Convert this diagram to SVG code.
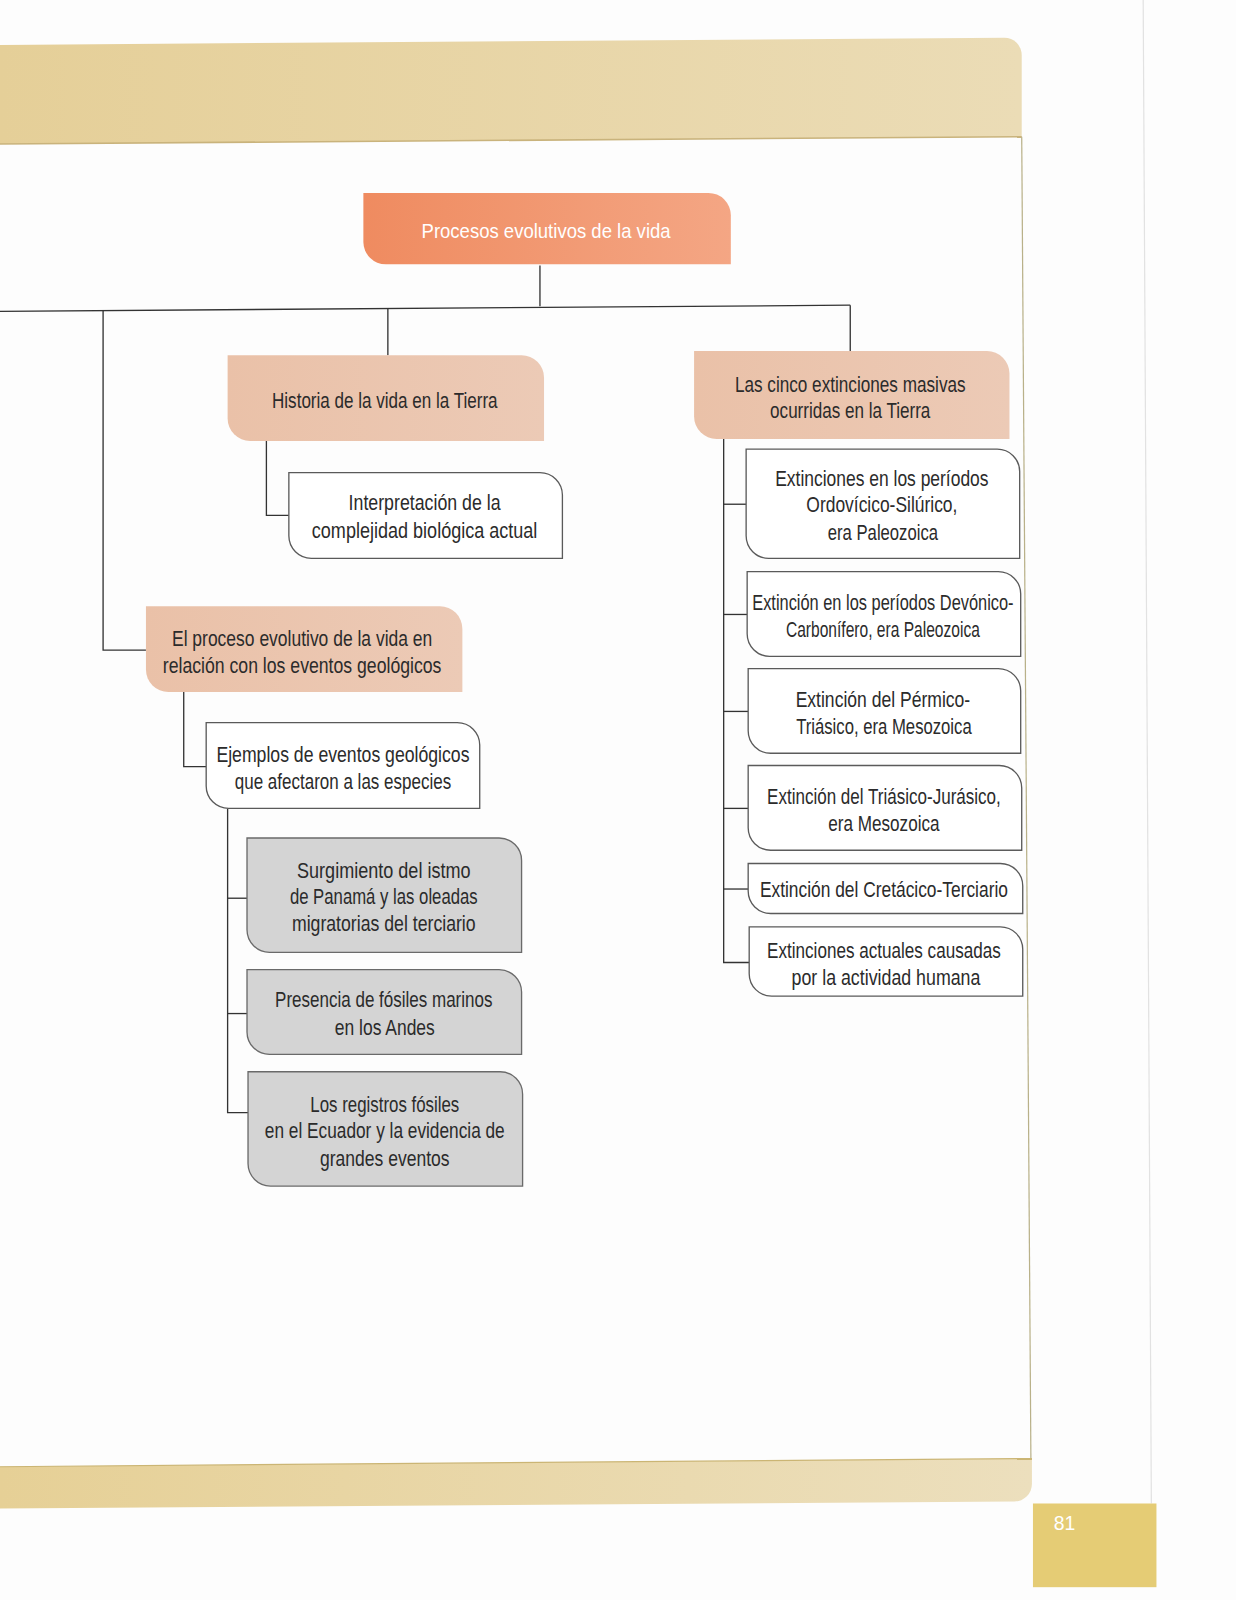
<svg xmlns="http://www.w3.org/2000/svg" width="1236" height="1600" viewBox="0 0 1236 1600">
<defs>
<linearGradient id="gHead" x1="0" y1="0" x2="1" y2="0">
<stop offset="0" stop-color="#e5cf98"/>
<stop offset="1" stop-color="#ebdcb6"/>
</linearGradient>
<linearGradient id="gFoot" x1="0" y1="0" x2="1" y2="0">
<stop offset="0" stop-color="#e6d096"/>
<stop offset="1" stop-color="#ecdfbd"/>
</linearGradient>
<linearGradient id="gRoot" x1="0" y1="0" x2="1" y2="0">
<stop offset="0" stop-color="#ef8b60"/>
<stop offset="1" stop-color="#f4a684"/>
</linearGradient>
<linearGradient id="gPeach" x1="0" y1="0" x2="1" y2="0">
<stop offset="0" stop-color="#eac1a8"/>
<stop offset="1" stop-color="#eccab6"/>
</linearGradient>
</defs>
<style>
.t{font-family:"Liberation Sans",Arial,sans-serif;font-size:21px;fill:#2b2b2b;text-anchor:middle}
.tw{font-family:"Liberation Sans",Arial,sans-serif;font-size:19px;fill:#ffffff;text-anchor:middle}
.peach{fill:url(#gPeach);stroke:none}
.white{fill:#ffffff;stroke:#5a5a5a;stroke-width:1.3}
.gray{fill:#d4d4d4;stroke:#6a6a6a;stroke-width:1.3}
.conn{fill:none;stroke:#333333;stroke-width:1.3}
</style>
<rect x="0" y="0" width="1236" height="1600" fill="#fdfdfd"/>
<g transform="scale(1.0207)">
<g id="page">
<path d="M0 44 L984 37 A17 17 0 0 1 1001 54 V134 L0 141 Z" fill="url(#gHead)"/>
<line x1="0" y1="141" x2="1001" y2="134" stroke="#c9b37c" stroke-width="1.5"/>
<line x1="1001" y1="134" x2="1010" y2="1430" stroke="#b9b189" stroke-width="1.2"/>
<path d="M0 1437 L1011 1429 V1454 A17 17 0 0 1 994 1471 L0 1478 Z" fill="url(#gFoot)"/>
<line x1="0" y1="1437" x2="1011" y2="1429" stroke="#cbb574" stroke-width="1.2"/>
<line x1="1120" y1="0" x2="1128" y2="1473" stroke="#e2e2e2" stroke-width="1.2"/>
<rect x="1012" y="1473" width="121" height="82" fill="#e5cc75"/>
<text x="1043" y="1499" style="font-family:'Liberation Sans',Arial,sans-serif;font-size:19px;fill:#ffffff;text-anchor:middle">81</text>
</g>
<g id="connectors">
<path class="conn" d="M529 260 V300"/>
<path class="conn" d="M0 305 L833 299"/>
<path class="conn" d="M101 304 V637 H143"/>
<path class="conn" d="M380 302 V348"/>
<path class="conn" d="M833 299 V344"/>
<path class="conn" d="M261 432 V505 H283"/>
<path class="conn" d="M180 678 V751 H202"/>
<path class="conn" d="M223 792 V1090 H243"/>
<path class="conn" d="M223 880 H242"/>
<path class="conn" d="M223 993 H242"/>
<path class="conn" d="M709 430 V943 H734"/>
<path class="conn" d="M709 494 H731"/>
<path class="conn" d="M709 602 H732"/>
<path class="conn" d="M709 697 H733"/>
<path class="conn" d="M709 792 H733"/>
<path class="conn" d="M709 871 H733"/>
</g>
<g id="root">
<path d="M356 189 H694 A22 22 0 0 1 716 211 V259 H378 A22 22 0 0 1 356 237 Z" fill="url(#gRoot)"/>
<text class="tw" x="535" y="233" textLength="244" lengthAdjust="spacingAndGlyphs">Procesos evolutivos de la vida</text>
</g>
<g id="historia">
<path class="peach" d="M223 348 H511 A22 22 0 0 1 533 370 V432 H245 A22 22 0 0 1 223 410 Z"/>
<text class="t" x="377" y="400" textLength="221" lengthAdjust="spacingAndGlyphs">Historia de la vida en la Tierra</text>
</g>
<g id="interpretacion">
<path class="white" d="M283 463 H529 A22 22 0 0 1 551 485 V547 H305 A22 22 0 0 1 283 525 Z"/>
<text class="t" x="416" y="500" textLength="149" lengthAdjust="spacingAndGlyphs">Interpretación de la</text>
<text class="t" x="416" y="527" textLength="221" lengthAdjust="spacingAndGlyphs">complejidad biológica actual</text>
</g>
<g id="proceso">
<path class="peach" d="M143 594 H431 A22 22 0 0 1 453 616 V678 H165 A22 22 0 0 1 143 656 Z"/>
<text class="t" x="296" y="633" textLength="255" lengthAdjust="spacingAndGlyphs">El proceso evolutivo de la vida en</text>
<text class="t" x="296" y="659" textLength="273" lengthAdjust="spacingAndGlyphs">relación con los eventos geológicos</text>
</g>
<g id="ejemplos">
<path class="white" d="M202 708 H448 A22 22 0 0 1 470 730 V792 H224 A22 22 0 0 1 202 770 Z"/>
<text class="t" x="336" y="747" textLength="248" lengthAdjust="spacingAndGlyphs">Ejemplos de eventos geológicos</text>
<text class="t" x="336" y="773" textLength="212" lengthAdjust="spacingAndGlyphs">que afectaron a las especies</text>
</g>
<g id="surgimiento">
<path class="gray" d="M242 821 H489 A22 22 0 0 1 511 843 V933 H264 A22 22 0 0 1 242 911 Z"/>
<text class="t" x="376" y="860" textLength="170" lengthAdjust="spacingAndGlyphs">Surgimiento del istmo</text>
<text class="t" x="376" y="886" textLength="184" lengthAdjust="spacingAndGlyphs">de Panamá y las oleadas</text>
<text class="t" x="376" y="912" textLength="180" lengthAdjust="spacingAndGlyphs">migratorias del terciario</text>
</g>
<g id="presencia">
<path class="gray" d="M242 950 H489 A22 22 0 0 1 511 972 V1033 H264 A22 22 0 0 1 242 1011 Z"/>
<text class="t" x="376" y="987" textLength="213" lengthAdjust="spacingAndGlyphs">Presencia de fósiles marinos</text>
<text class="t" x="377" y="1014" textLength="98" lengthAdjust="spacingAndGlyphs">en los Andes</text>
</g>
<g id="registros">
<path class="gray" d="M243 1050 H490 A22 22 0 0 1 512 1072 V1162 H265 A22 22 0 0 1 243 1140 Z"/>
<text class="t" x="377" y="1089" textLength="146" lengthAdjust="spacingAndGlyphs">Los registros fósiles</text>
<text class="t" x="377" y="1115" textLength="235" lengthAdjust="spacingAndGlyphs">en el Ecuador y la evidencia de</text>
<text class="t" x="377" y="1142" textLength="127" lengthAdjust="spacingAndGlyphs">grandes eventos</text>
</g>
<g id="cinco">
<path class="peach" d="M680 344 H967 A22 22 0 0 1 989 366 V430 H702 A22 22 0 0 1 680 408 Z"/>
<text class="t" x="833" y="384" textLength="226" lengthAdjust="spacingAndGlyphs">Las cinco extinciones masivas</text>
<text class="t" x="833" y="410" textLength="157" lengthAdjust="spacingAndGlyphs">ocurridas en la Tierra</text>
</g>
<g id="ext1">
<path class="white" d="M731 440 H977 A22 22 0 0 1 999 462 V547 H753 A22 22 0 0 1 731 525 Z"/>
<text class="t" x="864" y="476" textLength="209" lengthAdjust="spacingAndGlyphs">Extinciones en los períodos</text>
<text class="t" x="864" y="502" textLength="148" lengthAdjust="spacingAndGlyphs">Ordovícico-Silúrico,</text>
<text class="t" x="865" y="529" textLength="108" lengthAdjust="spacingAndGlyphs">era Paleozoica</text>
</g>
<g id="ext2">
<path class="white" d="M732 560 H978 A22 22 0 0 1 1000 582 V643 H754 A22 22 0 0 1 732 621 Z"/>
<text class="t" x="865" y="598" textLength="256" lengthAdjust="spacingAndGlyphs">Extinción en los períodos Devónico-</text>
<text class="t" x="865" y="624" textLength="190" lengthAdjust="spacingAndGlyphs">Carbonífero, era Paleozoica</text>
</g>
<g id="ext3">
<path class="white" d="M733 655 H978 A22 22 0 0 1 1000 677 V738 H755 A22 22 0 0 1 733 716 Z"/>
<text class="t" x="865" y="693" textLength="171" lengthAdjust="spacingAndGlyphs">Extinción del Pérmico-</text>
<text class="t" x="866" y="719" textLength="172" lengthAdjust="spacingAndGlyphs">Triásico, era Mesozoica</text>
</g>
<g id="ext4">
<path class="white" d="M733 750 H979 A22 22 0 0 1 1001 772 V833 H755 A22 22 0 0 1 733 811 Z"/>
<text class="t" x="866" y="788" textLength="229" lengthAdjust="spacingAndGlyphs">Extinción del Triásico-Jurásico,</text>
<text class="t" x="866" y="814" textLength="109" lengthAdjust="spacingAndGlyphs">era Mesozoica</text>
</g>
<g id="ext5">
<path class="white" d="M733 846 H980 A22 22 0 0 1 1002 868 V895 H755 A22 22 0 0 1 733 873 Z"/>
<text class="t" x="866" y="879" textLength="243" lengthAdjust="spacingAndGlyphs">Extinción del Cretácico-Terciario</text>
</g>
<g id="ext6">
<path class="white" d="M734 908 H980 A22 22 0 0 1 1002 930 V976 H756 A22 22 0 0 1 734 954 Z"/>
<text class="t" x="866" y="939" textLength="229" lengthAdjust="spacingAndGlyphs">Extinciones actuales causadas</text>
<text class="t" x="868" y="965" textLength="185" lengthAdjust="spacingAndGlyphs">por la actividad humana</text>
</g>
</g>
</svg>
